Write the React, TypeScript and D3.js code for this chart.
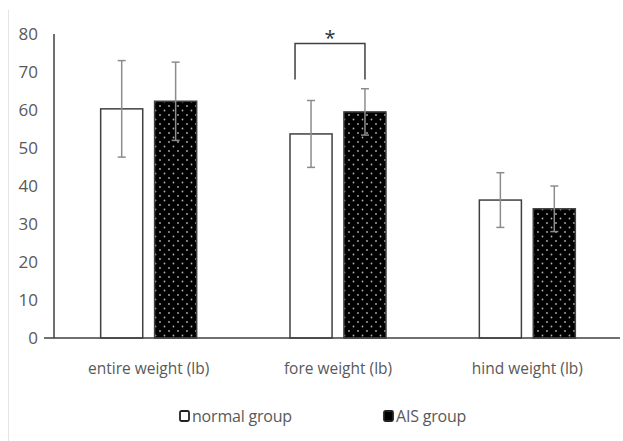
import React from "react";
import * as d3 from "d3";

// data
const categories = ["entire weight (lb)", "fore weight (lb)", "hind weight (lb)"];
const seriesNames = ["normal group", "AIS group"];
const normalMeans = [60.3, 53.7, 36.3];
const normalSd = [12.7, 8.8, 7.2];
const aisMeans = [62.3, 59.5, 34.0];
const aisSd = [10.3, 6.1, 6.0];
const yTicks = [0, 10, 20, 30, 40, 50, 60, 70, 80];

const W = 623;
const H = 441;
const margin = { top: 34, right: 0, bottom: 103, left: 54 };
const textColor = "#595959";
const font = "'Open Sans', sans-serif";

const App = () => {
    const xScale = d3.scaleBand()
        .domain(categories)
        .range([margin.left, W - 1])
        .paddingInner(0)
        .paddingOuter(0);

    const inner = d3.scaleBand()
        .domain(seriesNames)
        .range([-48, 48])
        .paddingInner(0.22);

    const yScale = d3.scaleLinear()
        .domain([0, 80])
        .range([H - margin.bottom, margin.top]);

    const series = [
        { name: seriesNames[0], means: normalMeans, sd: normalSd, fill: "#fff" },
        { name: seriesNames[1], means: aisMeans, sd: aisSd, fill: "url(#dots)" },
    ];

    const y0 = yScale(0);

    // significance bracket over fore weight
    const foreC = xScale(categories[1])! + xScale.bandwidth() / 2;
    const bx1 = foreC + inner(seriesNames[0])! + inner.bandwidth() / 2 - 16;
    const bx2 = foreC + inner(seriesNames[1])! + inner.bandwidth() / 2;
    const byTop = yScale(77.5);
    const byBot = yScale(68);

    return (
        <svg width={W} height={H} viewBox={`0 0 ${W} ${H}`}
            style={{ position: "absolute", left: 0, top: 0, background: "#fff" }}>
            <defs>
                <pattern id="dots" width={9} height={9} patternUnits="userSpaceOnUse">
                    <rect width={9} height={9} fill="#000" />
                    <circle cx={2.5} cy={2.5} r={0.9} fill="#b0b0b0" />
                    <circle cx={7} cy={7} r={0.9} fill="#b0b0b0" />
                </pattern>
            </defs>

            {/* page border line */}
            <line x1={8.5} x2={8.5} y1={10} y2={H} stroke="#e4e4e4" />

            {/* Y-axis */}
            {yTicks.map((t, i) => (
                <text key={i} x={38} y={yScale(t)} dy="0.35em" textAnchor="end"
                    style={{ fontSize: "17px", fill: textColor, fontFamily: font }}>
                    {t}
                </text>
            ))}
            <line x1={margin.left} x2={margin.left} y1={yScale(80)} y2={y0}
                stroke="#404040" strokeWidth={1.5} />

            {/* Bars */}
            {series.map((s, si) => (
                <g key={si}>
                    {categories.map((c, ci) => {
                        const cx = xScale(c)! + xScale.bandwidth() / 2;
                        const x = cx + inner(s.name)!;
                        const bw = inner.bandwidth();
                        return (
                            <rect key={ci} x={x} y={yScale(s.means[ci])} width={bw}
                                height={y0 - yScale(s.means[ci])}
                                fill={s.fill} stroke="#404040" strokeWidth={1.5} />
                        );
                    })}
                </g>
            ))}

            {/* Error bars */}
            {series.map((s, si) => (
                <g key={si}>
                    {categories.map((c, ci) => {
                        const ex = xScale(c)! + xScale.bandwidth() / 2 + inner(s.name)! + inner.bandwidth() / 2;
                        const hi = yScale(s.means[ci] + s.sd[ci]);
                        const lo = yScale(s.means[ci] - s.sd[ci]);
                        return (
                            <g key={ci} stroke="#8c8c8c" strokeWidth={1.5}>
                                <line x1={ex} x2={ex} y1={hi} y2={lo} />
                                <line x1={ex - 4} x2={ex + 4} y1={hi} y2={hi} />
                                <line x1={ex - 4} x2={ex + 4} y1={lo} y2={lo} />
                            </g>
                        );
                    })}
                </g>
            ))}

            {/* X-axis baseline */}
            <line x1={44} x2={W - 3} y1={y0} y2={y0} stroke="#404040" strokeWidth={1.5} />

            {/* X labels */}
            {categories.map((c, i) => (
                <text key={i} x={xScale(c)! + xScale.bandwidth() / 2} y={369} dy="0.35em"
                    textAnchor="middle"
                    style={{ fontSize: "15.5px", fill: textColor, fontFamily: font }}>
                    {c}
                </text>
            ))}

            {/* significance bracket */}
            <path d={`M${bx1},${byBot}V${byTop}H${bx2}V${byBot}`} fill="none"
                stroke="#404040" strokeWidth={1.5} />
            <text x={(bx1 + bx2) / 2} y={byTop + 1} textAnchor="middle"
                style={{ fontSize: "20px", fill: "#333", fontFamily: font }}>
                *
            </text>

            {/* Legend */}
            {series.map((s, i) => {
                const lx = i === 0 ? 180 : 384;
                return (
                    <g key={i} transform={`translate(${lx}, 411)`}>
                        <rect x={0} y={0} width={9} height={10} rx={1.5}
                            fill={i === 0 ? "#fff" : "#000"} stroke="#222" strokeWidth={1.8} />
                        <text x={12} y={5} dy="0.35em"
                            style={{ fontSize: "16px", fill: textColor, fontFamily: font, letterSpacing: "-0.2px" }}>
                            {s.name}
                        </text>
                    </g>
                );
            })}
        </svg>
    );
};

export default App;
